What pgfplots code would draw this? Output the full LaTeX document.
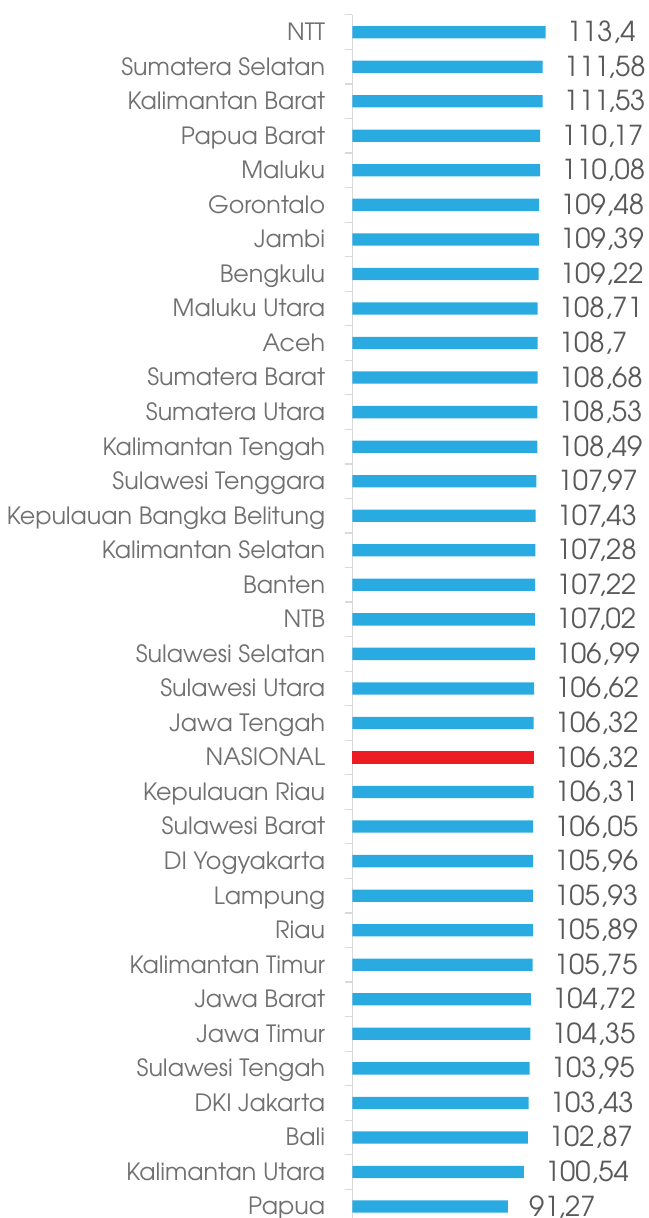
\documentclass[border=0pt]{standalone}
\usepackage{pgfplots}
\pgfplotsset{compat=1.18}
\usepackage{pgfplotstable}
\usepackage{fontspec}
\setmainfont{TeX Gyre Adventor}
\definecolor{barblue}{RGB}{41,171,226}
\definecolor{barred}{RGB}{237,28,36}
\definecolor{txt}{RGB}{89,89,89}
\definecolor{cattxt}{RGB}{112,112,112}
\definecolor{axgray}{RGB}{217,217,217}

\pgfplotstableread{
idx val lab
0 113.4 113,4
1 111.58 111,58
2 111.53 111,53
3 110.17 110,17
4 110.08 110,08
5 109.48 109,48
6 109.39 109,39
7 109.22 109,22
8 108.71 108,71
9 108.7 108,7
10 108.68 108,68
11 108.53 108,53
12 108.49 108,49
13 107.97 107,97
14 107.43 107,43
15 107.28 107,28
16 107.22 107,22
17 107.02 107,02
18 106.99 106,99
19 106.62 106,62
20 106.32 106,32
22 106.31 106,31
23 106.05 106,05
24 105.96 105,96
25 105.93 105,93
26 105.89 105,89
27 105.75 105,75
28 104.72 104,72
29 104.35 104,35
30 103.95 103,95
31 103.43 103,43
32 102.87 102,87
33 100.54 100,54
34 91.27 91,27
}\bluedata

\pgfplotstableread{
idx val lab
21 106.32 106,32
}\reddata

\begin{document}
\begin{tikzpicture}
\begin{axis}[
  scale only axis,
  width=204.7pt, height=1208.9pt,
  xmin=0, xmax=120,
  ymin=-0.5, ymax=34.5,
  y dir=reverse,
  axis x line=none,
  axis y line*=left,
  y axis line style={axgray, line width=1.5pt, -},
  clip=false,
  xtick=\empty,
  ytick={0,...,34},
  yticklabels={NTT, Sumatera Selatan, Kalimantan Barat, Papua Barat, Maluku, Gorontalo, Jambi, Bengkulu, Maluku Utara, Aceh, Sumatera Barat, Sumatera Utara, Kalimantan Tengah, Sulawesi Tenggara, Kepulauan Bangka Belitung, Kalimantan Selatan, Banten, NTB, Sulawesi Selatan, Sulawesi Utara, Jawa Tengah, NASIONAL, Kepulauan Riau, Sulawesi Barat, DI Yogyakarta, Lampung, Riau, Kalimantan Timur, Jawa Barat, Jawa Timur, Sulawesi Tengah, DKI Jakarta, Bali, Kalimantan Utara, Papua},
  major tick length=0pt,
  minor ytick={-0.5,0.5,...,34.5},
  minor tick length=7pt,
  tick align=outside,
  minor tick style={axgray, line width=1.2pt},
  yticklabel style={font=\fontsize{23.8}{28}\selectfont, text=cattxt, anchor=base east, inner sep=0pt, xshift=-27pt, yshift=-8.4pt},
  xbar, bar width=12.3pt, bar shift=0pt,
  nodes near coords,
  point meta=explicit symbolic,
  every node near coord/.append style={font=\fontsize{27.5}{32}\selectfont, text=txt, anchor=base west, inner sep=0pt, xshift=21pt, yshift=-9.5pt},
]
\addplot[draw=none, fill=barblue] table[x=val, y=idx, meta=lab] {\bluedata};
\addplot[draw=none, fill=barred] table[x=val, y=idx, meta=lab] {\reddata};
\coordinate (tl) at (axis cs:0,-0.5);
\end{axis}
\pgfresetboundingbox
\path[use as bounding box] (tl) ++(-352.3pt,14.9pt) rectangle ++(648pt,-1218pt);
\end{tikzpicture}
\end{document}
